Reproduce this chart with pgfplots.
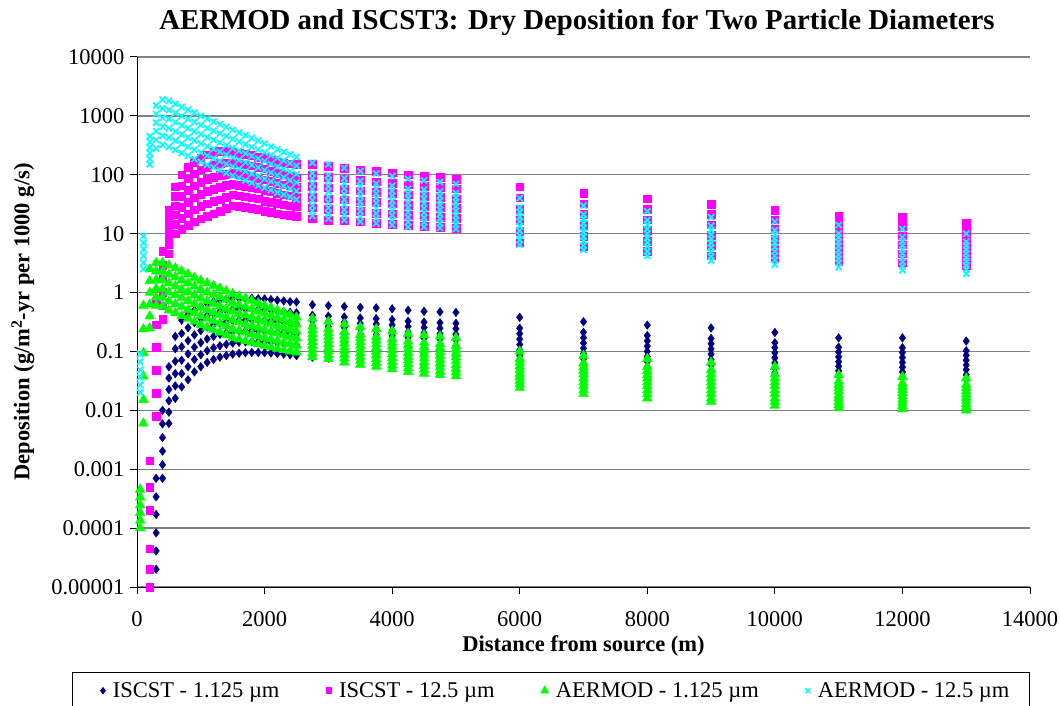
\documentclass[border=0pt]{standalone}
\usepackage{fontspec}
\setmainfont{Liberation Serif}
\usepackage{pgfplots}
\usepackage{pgfplotstable}
\pgfplotsset{compat=1.18}
\definecolor{cnavy}{RGB}{0,0,128}
\definecolor{cpink}{RGB}{255,0,255}
\definecolor{cgreen}{RGB}{0,255,0}
\definecolor{ccyan}{RGB}{0,255,255}
\definecolor{cgrid}{RGB}{128,128,128}

% ISCST - 1.125 um
\pgfplotstableread{
x a b c d e f
300 2e-5 4.1e-5 8.3e-5 1.7e-4 3.4e-4 7e-4
400 7e-4 0.00119 0.00203 0.00345 0.00588 0.01
500 0.006 0.0093 0.0145 0.0226 0.0353 0.055
600 0.016 0.026 0.042 0.068 0.111 0.18
700 0.025 0.042 0.071 0.12 0.202 0.34
800 0.033 0.055 0.091 0.152 0.252 0.42
900 0.045 0.073 0.118 0.191 0.309 0.5
1000 0.055 0.088 0.141 0.226 0.362 0.58
1100 0.065 0.103 0.163 0.259 0.41 0.65
1200 0.073 0.115 0.18 0.283 0.445 0.7
1300 0.08 0.125 0.196 0.307 0.48 0.75
1400 0.085 0.132 0.206 0.321 0.5 0.78
1500 0.09 0.139 0.216 0.334 0.517 0.8
1600 0.093 0.143 0.22 0.338 0.52 0.8
1700 0.095 0.145 0.223 0.341 0.522 0.8
1800 0.096 0.147 0.224 0.343 0.524 0.8
1900 0.096 0.146 0.223 0.34 0.518 0.79
2000 0.095 0.145 0.221 0.336 0.512 0.78
2100 0.094 0.143 0.217 0.329 0.5 0.76
2200 0.092 0.14 0.212 0.321 0.488 0.74
2300 0.09 0.136 0.207 0.313 0.475 0.72
2400 0.088 0.133 0.202 0.305 0.462 0.7
2500 0.085 0.129 0.196 0.298 0.453 0.69
2750 0.08 0.12 0.181 0.273 0.412 0.62
3000 0.077 0.116 0.175 0.264 0.398 0.6
3250 0.074 0.112 0.169 0.254 0.384 0.58
3500 0.07 0.106 0.161 0.244 0.37 0.56
3750 0.067 0.102 0.155 0.237 0.361 0.55
4000 0.064 0.098 0.149 0.227 0.347 0.53
4250 0.06 0.092 0.14 0.214 0.327 0.5
4500 0.058 0.089 0.135 0.206 0.315 0.48
4750 0.056 0.086 0.131 0.201 0.307 0.47
5000 0.054 0.083 0.127 0.195 0.3 0.46
6000 0.045 0.069 0.106 0.162 0.248 0.38
7000 0.04 0.061 0.092 0.139 0.211 0.32
8000 0.036 0.054 0.082 0.123 0.186 0.28
9000 0.032 0.048 0.073 0.11 0.166 0.25
10000 0.029 0.043 0.064 0.095 0.141 0.21
11000 0.027 0.039 0.056 0.081 0.118 0.17
12000 0.025 0.037 0.054 0.079 0.116 0.17
13000 0.023 0.033 0.049 0.071 0.103 0.15
}\tblA
\pgfplotstableread{
x g h i
2750 0.147 0.222 0.335
3000 0.142 0.215 0.324
3250 0.138 0.207 0.312
3500 0.131 0.198 0.3
3750 0.126 0.192 0.292
4000 0.121 0.184 0.281
4250 0.113 0.173 0.265
4500 0.11 0.167 0.255
4750 0.106 0.162 0.248
5000 0.103 0.157 0.242
6000 0.085 0.131 0.2
7000 0.075 0.113 0.171
8000 0.067 0.1 0.151
9000 0.059 0.09 0.135
10000 0.052 0.078 0.116
11000 0.047 0.067 0.098
12000 0.045 0.065 0.096
13000 0.04 0.059 0.086
}\tblAx

% ISCST - 12.5 um
\pgfplotstableread{
x a b c d e f
200 1e-5 2e-5 4.5e-5 2e-4 5e-4 1.4e-3
300 0.008 0.0196 0.048 0.117 0.286 0.7
400 0.35 0.6 1.01 1.72 2.94 5
500 4.6 6.5 9.1 12.7 17.8 25
600 10 14.5 20.9 30 43.6 63
700 12 18.3 28 43 65 100
800 14 22 34.6 54.5 86 135
900 16 25.5 40.7 65 104 165
1000 18 29 46.7 75 121 195
1100 20 32.3 52 84 136 220
1200 22 35.5 57 92 149 240
1300 24 38 61 98 157 250
1400 27 42 66 103 160 250
1500 30 45.7 69.5 106 161 245
1600 29 44 67 102 155 235
1700 28 42.5 64.4 98 148 225
1800 27 41 62 94 142 215
1900 26 39 59 88 133 200
2000 24 36 55 83 126 190
2100 23 34.5 52 78 116 175
2200 22 32.7 48.6 72 107 165
2300 21 31 46 68 101 160
2400 20.5 30 44 65 95 155
2500 20 29 42 61.5 89 150
2750 18 27.5 42 64 98 150
3000 17 26 39.5 60 92 140
3250 16.5 25 37.7 57 86 130
3500 16 24 36 54 81 122
3750 15 22.5 34 51 76.5 115
4000 14.5 21.7 32.4 48.4 72 108
4250 14 20.7 30.7 45.6 67.5 100
4500 13.5 20 29.5 43.5 64 95
4750 13 19 28 41.5 61 90
5000 12.5 18.3 27 39.5 58 85
6000 7 10.9 16.9 26.2 40.6 63
7000 6 9.1 13.9 21.2 32.2 49
8000 5 7.5 11.4 17.2 25.9 39
9000 4.2 6.3 9.5 14.2 21.3 32
10000 3.8 5.5 8.1 11.8 17.2 25
11000 3.4 4.85 6.9 9.8 14 20
12000 3.2 4.6 6.5 9.3 13.3 19
13000 2.9 4.0 5.6 7.8 10.8 15
}\tblB

% AERMOD - 1.125 um
\pgfplotstableread{
x a b c d e f
50 0.0001 0.000135 0.000182 0.000246 0.000333 0.00045
100 0.006 0.0151 0.0379 0.095 0.239 0.6
200 0.25 0.396 0.628 0.995 1.58 2.5
300 0.6 0.84 1.17 1.64 2.29 3.2
400 0.58 0.82 1.15 1.62 2.27 3.2
500 0.5 0.71 1.01 1.44 2.04 2.9
600 0.45 0.64 0.91 1.29 1.83 2.6
700 0.4 0.57 0.81 1.14 1.62 2.3
800 0.36 0.51 0.72 1.02 1.45 2.05
900 0.32 0.45 0.64 0.9 1.27 1.8
1000 0.28 0.4 0.56 0.8 1.13 1.6
1100 0.255 0.36 0.51 0.72 1.02 1.45
1200 0.232 0.33 0.46 0.65 0.92 1.3
1300 0.21 0.3 0.42 0.59 0.84 1.18
1400 0.19 0.27 0.38 0.53 0.75 1.06
1500 0.17 0.24 0.34 0.48 0.67 0.95
1600 0.16 0.225 0.315 0.44 0.62 0.87
1700 0.15 0.21 0.29 0.41 0.57 0.8
1800 0.142 0.197 0.273 0.379 0.526 0.73
1900 0.133 0.183 0.253 0.348 0.48 0.66
2000 0.125 0.171 0.234 0.32 0.438 0.6
2100 0.118 0.16 0.218 0.297 0.404 0.55
2200 0.112 0.151 0.204 0.275 0.371 0.5
2300 0.106 0.142 0.191 0.256 0.343 0.46
2400 0.1 0.133 0.177 0.236 0.315 0.42
2500 0.096 0.126 0.167 0.219 0.289 0.38
2750 0.08 0.108 0.146 0.197 0.266 0.36
3000 0.075 0.1 0.134 0.179 0.24 0.32
3250 0.065 0.088 0.118 0.16 0.215 0.29
3500 0.06 0.08 0.108 0.145 0.194 0.26
3750 0.055 0.074 0.099 0.133 0.179 0.24
4000 0.05 0.067 0.09 0.122 0.164 0.22
4250 0.045 0.061 0.082 0.11 0.148 0.2
4500 0.042 0.057 0.077 0.104 0.141 0.19
4750 0.04 0.054 0.073 0.099 0.133 0.18
5000 0.038 0.051 0.069 0.093 0.126 0.17
6000 0.024 0.032 0.042 0.056 0.075 0.1
7000 0.019 0.026 0.035 0.047 0.063 0.085
8000 0.016 0.022 0.03 0.04 0.055 0.075
9000 0.014 0.019 0.026 0.035 0.048 0.065
10000 0.012 0.016 0.022 0.03 0.041 0.055
11000 0.011 0.014 0.018 0.024 0.031 0.04
12000 0.0105 0.0135 0.0174 0.0223 0.0287 0.037
13000 0.01 0.0129 0.0165 0.0212 0.0272 0.035
}\tblC
\pgfplotstableread{
x g h i j
2750 0.093 0.126 0.17 0.229
3000 0.087 0.116 0.155 0.207
3250 0.076 0.102 0.137 0.185
3500 0.069 0.093 0.125 0.168
3750 0.064 0.086 0.115 0.154
4000 0.058 0.078 0.105 0.141
4250 0.052 0.071 0.095 0.128
4500 0.049 0.066 0.089 0.121
4750 0.046 0.063 0.085 0.115
5000 0.044 0.059 0.08 0.108
6000 0.028 0.037 0.049 0.065
7000 0.022 0.030 0.041 0.054
8000 0.019 0.026 0.035 0.047
9000 0.016 0.022 0.030 0.041
10000 0.014 0.019 0.026 0.035
11000 0.0124 0.016 0.021 0.027
12000 0.0119 0.0153 0.0197 0.0253
13000 0.0114 0.0146 0.0187 0.024
}\tblCx

% AERMOD - 12.5 um
\pgfplotstableread{
x a b c d e f
50 0.02 0.027 0.0365 0.049 0.067 0.09
100 2.5 3.2 4.2 5.4 7.0 9.0
200 150 187 233 290 361 450
300 280 392 548 767 1073 1500
400 320 457 653 932 1331 1900
500 300 429 614 879 1258 1800
600 265 380 544 780 1117 1600
700 235 337 483 692 991 1420
800 210 301 431 618 886 1270
900 185 266 382 548 787 1130
1000 165 237 340 487 698 1000
1100 148 212 303 434 621 890
1200 133 190 273 391 559 800
1300 120 172 246 352 503 720
1400 107 153 220 316 453 650
1500 96 138 197 282 405 580
1600 88 126 179 256 365 520
1700 80 114 162 231 330 470
1800 73 104 147 209 296 420
1900 66 94 133 189 268 380
2000 60 85 120 170 240 340
2100 55 77 108 152 214 300
2200 50 70 98 137 193 270
2300 46 64 90 125 175 245
2400 42 58 81 113 158 220
2500 38 53 74 103 143 200
2750 20 30 46 70 106 160
3000 18 27.5 42 64 98 150
3250 17 25.5 38 58 87 130
3500 16 24 35 52 78 115
3750 15 22 33 48 71 105
4000 14 20.5 30 44 65 95
4250 13 19 27.5 40 58 85
4500 13 18.7 27 39 56 80
4750 12.5 17.9 25.6 36.6 52 75
5000 12 17 24.3 34.6 49 70
6000 6.5 9.3 13.4 19.3 27.8 40
7000 5.3 7.5 10.6 15 21.2 30
8000 4.2 6.0 8.4 12 17 24
9000 3.5 4.9 6.9 9.7 13.6 19
10000 3 4.2 5.9 8.2 11.4 16
11000 2.7 3.75 5.2 7.3 10.1 14
12000 2.4 3.3 4.6 6.3 8.7 12
13000 2.1 2.9 3.9 5.4 7.3 10
}\tblD
\pgfplotstableread{
x g h i j
2750 24.5 37 57 86
3000 22 34 52 79
3250 21 31 47 71
3500 19.6 29 43 64
3750 18.2 27 40 58
4000 17 25 36 53
4250 15.7 23 33 48
4500 15.6 22.5 32.5 47
4750 15 21.4 30.6 43.6
5000 14.3 20.3 29 41
6000 7.8 11.2 16.1 23.2
7000 6.3 8.9 12.6 17.8
8000 5 7.1 10 14.3
9000 4.1 5.8 8.2 11.5
10000 3.55 5 7 9.7
11000 3.2 4.4 6.2 8.6
12000 2.8 3.9 5.4 7.4
13000 2.5 3.4 4.6 6.3
}\tblDx

\pgfplotsset{
  sA/.style={only marks, mark=diamond*, mark size=4.3pt, color=cnavy},
  sB/.style={only marks, mark=square*, mark size=3.8pt, color=cpink},
  sC/.style={only marks, mark=triangle*, mark size=5.6pt, color=cgreen},
  sD/.style={only marks, mark=x, mark size=4.3pt, color=ccyan, mark options={line width=1.7pt}},
}

\begin{document}
\begin{tikzpicture}
\begin{axis}[
  at={(137pt,119pt)}, anchor=south west,
  scale only axis, width=893pt, height=530pt,
  xmin=0, xmax=14000, ymode=log, ymin=1e-5, ymax=1e4,
  axis x line*=bottom, axis y line*=left,
  axis line style={-, black, line width=1pt},
  scaled x ticks=false,
  xtick={0,2000,4000,6000,8000,10000,12000,14000},
  xticklabels={0,2000,4000,6000,8000,10000,12000,14000},
  ytick={1e-5,1e-4,1e-3,1e-2,1e-1,1,10,100,1000,10000},
  yticklabels={0.00001,0.0001,0.001,0.01,0.1,1,10,100,1000,10000},
  yminorticks=false, xminorticks=false,
  tick align=outside, major tick length=7pt,
  tick style={black, line width=1pt},
  ymajorgrids, grid style={cgrid, line width=1.3pt},
  tick label style={font=\fontsize{22.5}{27}\selectfont},
  xticklabel style={yshift=-14pt},
  yticklabel style={xshift=-2pt},
  label style={font=\bfseries\fontsize{22.5}{27}\selectfont},
  xlabel={Distance from source (m)},
  xlabel style={at={(0.5,0)}, anchor=center, yshift=-59pt},
  clip=false,
  legend columns=4,
  legend style={at={(-0.0728,-0.1604)}, anchor=north west,
    draw=black, line width=1pt, inner xsep=16pt, inner ysep=4pt,
    font=\fontsize{22.5}{27}\selectfont,
    nodes={inner xsep=4.5pt, inner ysep=6pt},
    /tikz/every odd column/.append style={column sep=3pt},
    /tikz/every even column/.append style={column sep=42pt}},
]
\pgfplotsinvokeforeach{a,b,c,d,e,f}{\addplot[sA, forget plot] table[x=x, y=#1] {\tblA};}
\pgfplotsinvokeforeach{g,h,i}{\addplot[sA, forget plot] table[x=x, y=#1] {\tblAx};}
\pgfplotsinvokeforeach{a,b,c,d,e,f}{\addplot[sB, forget plot] table[x=x, y=#1] {\tblB};}
\pgfplotsinvokeforeach{a,b,c,d,e,f}{\addplot[sC, forget plot] table[x=x, y=#1] {\tblC};}
\pgfplotsinvokeforeach{g,h,i,j}{\addplot[sC, forget plot] table[x=x, y=#1] {\tblCx};}
\pgfplotsinvokeforeach{a,b,c,d,e,f}{\addplot[sD, forget plot] table[x=x, y=#1] {\tblD};}
\pgfplotsinvokeforeach{g,h,i,j}{\addplot[sD, forget plot] table[x=x, y=#1] {\tblDx};}
\addlegendimage{only marks, mark=diamond*, mark size=3pt, color=cnavy,
  legend image code/.code={\path[draw=none] (-6pt,0pt) -- (0pt,0pt); \draw[mark repeat=2,mark phase=2,##1] plot coordinates {(0cm,0cm) (0.3cm,0cm) (0.6cm,0cm)};}}
\addlegendentry{ISCST - 1.125 µm}
\addlegendimage{only marks, mark=square*, mark size=2.8pt, color=cpink}\addlegendentry{ISCST - 12.5 µm}
\addlegendimage{only marks, mark=triangle*, mark size=4.2pt, color=cgreen}\addlegendentry{AERMOD - 1.125 µm}
\addlegendimage{only marks, mark=x, mark size=3.5pt, color=ccyan, mark options={line width=1.4pt}}\addlegendentry{AERMOD - 12.5 µm}
\end{axis}
\node[font=\bfseries\fontsize{28.8}{34}\selectfont] at (577pt,684pt) {AERMOD and ISCST3: Dry Deposition for Two Particle Diameters};
\node[font=\bfseries\fontsize{22.5}{27}\selectfont, rotate=90] at (23pt,384pt) {Deposition (g/m\textsuperscript{2}-yr per 1000 g/s)};
\pgfresetboundingbox
\path[use as bounding box] (0,0) rectangle (1060pt,706pt);
\end{tikzpicture}
\end{document}
